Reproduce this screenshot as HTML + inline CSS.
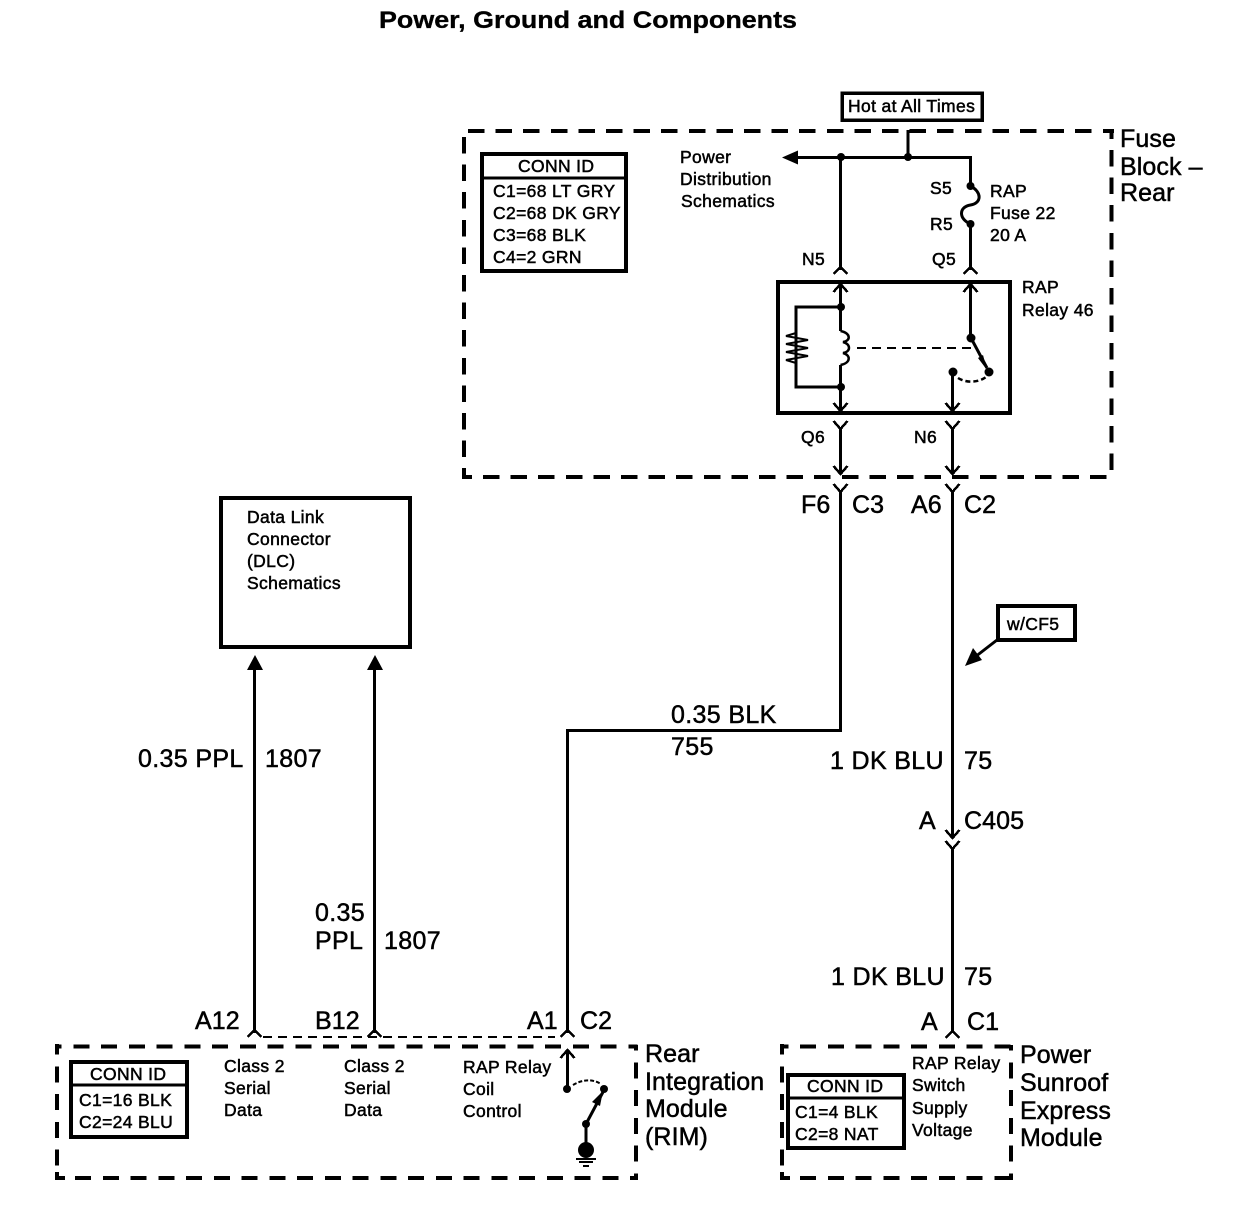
<!DOCTYPE html>
<html><head><meta charset="utf-8"><style>
html,body{margin:0;padding:0;background:#fff}
svg{display:block}
text{font-family:"Liberation Sans",sans-serif;fill:#000;stroke:#000;stroke-width:.5px}
.s{font-size:17.5px;letter-spacing:.35px}
.m{font-size:25px;letter-spacing:.35px}
.b{font-size:25px;letter-spacing:.1px}
.k{fill:none;stroke:#000;stroke-width:3}
.c{fill:none;stroke:#000;stroke-width:2.5}
.box{fill:#fff;stroke:#000;stroke-width:4}
.d{fill:none;stroke:#000;stroke-width:4;stroke-dasharray:16.5 11.1}
.r{fill:none;stroke:#000;stroke-width:4;stroke-dasharray:16 11.75}
.l{shape-rendering:crispEdges}
</style></head><body>
<svg width="1238" height="1216" viewBox="0 0 1238 1216" xmlns="http://www.w3.org/2000/svg">
<rect width="1238" height="1216" fill="#fff"/>
<text x="379" y="28" textLength="418" lengthAdjust="spacingAndGlyphs" style="font-size:24px;font-weight:bold;stroke-width:.3px;letter-spacing:0">Power, Ground and Components</text>

<g class="l">
<!-- Fuse block dashed border -->
<path class="d" d="M468 131H1114"/>
<path class="d" d="M464 137V478"/>
<path class="d" d="M462 477H1107" stroke-dashoffset="6.6"/>
<path class="d" d="M1111.5 130V471" stroke-dashoffset="7.6"/>

<rect x="842" y="93" width="140" height="27" fill="#fff" stroke="#000" stroke-width="3.5"/>
<path class="k" d="M908 130V157.5M798 157.5H970.5V186"/>
<path class="k" d="M840.5 157V270"/>
<path class="c" d="M833.5 274L840.5 267L847.5 274M963.5 274L970.5 267L977.5 274"/>

<rect class="box" x="482" y="154" width="144" height="117"/>
<path d="M482 178H626" stroke="#000" stroke-width="3"/>

<!-- Relay -->
<rect class="box" x="778" y="282" width="232" height="131"/>
<path class="k" d="M840.5 284V331M840.5 365V410M840.5 307H796V387H840.5M970.5 284V338"/>
<path class="c" d="M833.5 292L840.5 284L847.5 292M963.5 292L970.5 284L977.5 292M833.5 403L840.5 411L847.5 403M945.5 403L952.5 411L959.5 403"/>
<path d="M857 348H976" fill="none" stroke="#000" stroke-width="2" stroke-dasharray="9 6"/>
<path class="k" d="M952.5 372V410"/>
<path class="c" d="M833.5 421L840.5 429L847.5 421M945.5 421L952.5 429L959.5 421M833.5 466L840.5 474L847.5 466M945.5 466L952.5 474L959.5 466M833.5 484L840.5 492L847.5 484M945.5 484L952.5 492L959.5 484"/>
<path class="k" d="M840.5 428V473M952.5 428V473"/>

<!-- Main wires -->
<path class="k" d="M840.5 491V730.5H567.5V1033"/>
<path class="k" d="M952.5 491V838M952.5 848V1033"/>
<path class="c" d="M945.5 830L952.5 838L959.5 830M945.5 841L952.5 849L959.5 841"/>

<rect x="998" y="606" width="77" height="34" fill="#fff" stroke="#000" stroke-width="4"/>

<!-- DLC -->
<rect x="221" y="498" width="189" height="149" fill="#fff" stroke="#000" stroke-width="4"/>
<path class="k" d="M254.5 668V1033M374.5 668V1033"/>

<!-- RIM dashed border -->
<path class="r" d="M55 1046.5H637.5" stroke-dashoffset="9.3"/>
<path class="r" d="M55 1178H637.5" stroke-dashoffset="7.6"/>
<path class="r" d="M57 1044V1178" stroke-dasharray="16 11.5" stroke-dashoffset="5.5"/>
<path class="r" d="M636 1045V1180" stroke-dasharray="16 11.5" stroke-dashoffset="10.5"/>
<path d="M57 1172V1178H65" fill="none" stroke="#000" stroke-width="4"/>
<path d="M263 1037H555" fill="none" stroke="#000" stroke-width="2" stroke-dasharray="9 6"/>
<path class="c" d="M247.5 1037L254.5 1030L261.5 1037M367.5 1037L374.5 1030L381.5 1037M560.5 1037L567.5 1030L574.5 1037M945.5 1038L952.5 1031L959.5 1038"/>
<rect class="box" x="71" y="1062" width="116" height="75"/>
<path d="M71 1085H187" stroke="#000" stroke-width="3"/>
<path class="k" d="M567.5 1051V1089"/>
<path class="c" d="M560.5 1058L567.5 1050L574.5 1058"/>

<!-- Sunroof dashed border -->
<path class="r" d="M780 1046.5H1012.5" stroke-dashoffset="7.7"/>
<path class="r" d="M780 1178H1012.5" stroke-dashoffset="7.7"/>
<path class="r" d="M782 1044V1178" stroke-dasharray="16 11.5" stroke-dashoffset="5.5"/>
<path class="r" d="M1011 1045V1180" stroke-dasharray="16 11.5" stroke-dashoffset="10.5"/>
<path d="M782 1172V1178H790" fill="none" stroke="#000" stroke-width="4"/>
<rect class="box" x="788" y="1075" width="116" height="73"/>
<path d="M788 1098H904" stroke="#000" stroke-width="3"/>
</g>

<text class="s" x="848" y="112">Hot at All Times</text>
<path d="M782 157.5L798 150.5V164.5Z"/>
<circle cx="841" cy="157" r="4"/><circle cx="908" cy="157" r="4"/>
<circle cx="970.5" cy="186" r="4"/><circle cx="970.5" cy="224" r="4"/>
<path class="k" d="M970.5 186C982 192 982 203 970.5 205C958.5 207 958.5 219 970.5 224V270"/>
<text class="s" x="930" y="194">S5</text><text class="s" x="930" y="230">R5</text>
<text class="s" x="990" y="197">RAP</text><text class="s" x="990" y="219">Fuse 22</text><text class="s" x="990" y="241">20 A</text>
<text class="s" x="802" y="265">N5</text><text class="s" x="932" y="265">Q5</text>
<text class="s" x="680" y="163">Power</text><text class="s" x="680" y="185">Distribution</text><text class="s" x="681" y="207">Schematics</text>
<text class="s" x="518" y="172">CONN ID</text>
<text class="s" x="493" y="197">C1=68 LT GRY</text><text class="s" x="493" y="219">C2=68 DK GRY</text><text class="s" x="493" y="241">C3=68 BLK</text><text class="s" x="493" y="263">C4=2 GRN</text>
<text class="b" x="1120" y="147">Fuse</text><text class="b" x="1120" y="175">Block –</text><text class="b" x="1120" y="201">Rear</text>

<text class="s" x="1022" y="293">RAP</text><text class="s" x="1022" y="316">Relay 46</text>
<circle cx="841" cy="307" r="4"/><circle cx="841" cy="387" r="4"/>
<path d="M840.5 331C851 333 851 341 843 342C851 344 851 352 843 353C851 355 851 363 840.5 365" fill="none" stroke="#000" stroke-width="2.5"/>
<path d="M796 333L786 336L808 340L786 344L808 348L786 352L808 356L786 360L796 363" fill="none" stroke="#000" stroke-width="2"/>
<circle cx="971" cy="338" r="4.5"/><circle cx="989" cy="372" r="4.5"/><circle cx="953" cy="372" r="4.5"/>
<path class="k" d="M971 338L987 368"/>
<path d="M987 370L978 358L983 355Z"/>
<path d="M958 378C966 383 978 383 986 377" fill="none" stroke="#000" stroke-width="2.5" stroke-dasharray="5 3"/>
<text class="s" x="801" y="443">Q6</text><text class="s" x="914" y="443">N6</text>

<text class="b" x="801" y="513">F6</text><text class="b" x="852" y="513">C3</text>
<text class="b" x="911" y="513">A6</text><text class="b" x="964" y="513">C2</text>

<text class="s" x="1007" y="630">w/CF5</text>
<path class="k" d="M997 640L975 657"/>
<path d="M965 666L973 648L982 660Z"/>

<text class="m" x="671" y="723">0.35 BLK</text><text class="m" x="671" y="755">755</text>
<text class="m" x="830" y="769">1 DK BLU</text><text class="m" x="964" y="769">75</text>
<text class="b" x="919" y="829">A</text><text class="b" x="964" y="829">C405</text>
<text class="m" x="831" y="985">1 DK BLU</text><text class="m" x="964" y="985">75</text>
<text class="b" x="921" y="1030">A</text><text class="b" x="967" y="1030">C1</text>

<text class="s" x="247" y="523">Data Link</text><text class="s" x="247" y="545">Connector</text><text class="s" x="247" y="567">(DLC)</text><text class="s" x="247" y="589">Schematics</text>
<path d="M255 655L263 670H247ZM375 655L383 670H367Z"/>
<text class="m" x="138" y="767">0.35 PPL</text><text class="m" x="265" y="767">1807</text>
<text class="m" x="315" y="921">0.35</text><text class="m" x="315" y="949">PPL</text><text class="m" x="384" y="949">1807</text>
<text class="b" x="195" y="1029">A12</text><text class="b" x="315" y="1029">B12</text>
<text class="b" x="527" y="1029">A1</text><text class="b" x="580" y="1029">C2</text>

<text class="s" x="90" y="1080">CONN ID</text><text class="s" x="79" y="1106">C1=16 BLK</text><text class="s" x="79" y="1128">C2=24 BLU</text>
<text class="s" x="224" y="1072">Class 2</text><text class="s" x="224" y="1094">Serial</text><text class="s" x="224" y="1116">Data</text>
<text class="s" x="344" y="1072">Class 2</text><text class="s" x="344" y="1094">Serial</text><text class="s" x="344" y="1116">Data</text>
<text class="s" x="463" y="1073">RAP Relay</text><text class="s" x="463" y="1095">Coil</text><text class="s" x="463" y="1117">Control</text>
<circle cx="567" cy="1089" r="4"/><circle cx="604" cy="1089" r="4"/><circle cx="586" cy="1124" r="4"/><circle cx="586" cy="1150" r="8"/>
<path d="M573 1085C583 1079 593 1079 601 1084" fill="none" stroke="#000" stroke-width="2" stroke-dasharray="4 2"/>
<path class="k" d="M586 1124L603 1092M586 1124V1150"/>
<path d="M603 1091L600 1106L592 1102Z"/>
<path d="M576 1159H596M579 1162H593M583 1166H589" stroke="#000" stroke-width="2"/>
<text class="b" x="645" y="1062">Rear</text><text class="b" x="645" y="1090">Integration</text><text class="b" x="645" y="1117">Module</text><text class="b" x="645" y="1145">(RIM)</text>

<text class="s" x="807" y="1092">CONN ID</text><text class="s" x="795" y="1118">C1=4 BLK</text><text class="s" x="795" y="1140">C2=8 NAT</text>
<text class="s" x="912" y="1069">RAP Relay</text><text class="s" x="912" y="1091">Switch</text><text class="s" x="912" y="1114">Supply</text><text class="s" x="912" y="1136">Voltage</text>
<text class="b" x="1020" y="1063">Power</text><text class="b" x="1020" y="1091">Sunroof</text><text class="b" x="1020" y="1119">Express</text><text class="b" x="1020" y="1146">Module</text>
</svg>
</body></html>
